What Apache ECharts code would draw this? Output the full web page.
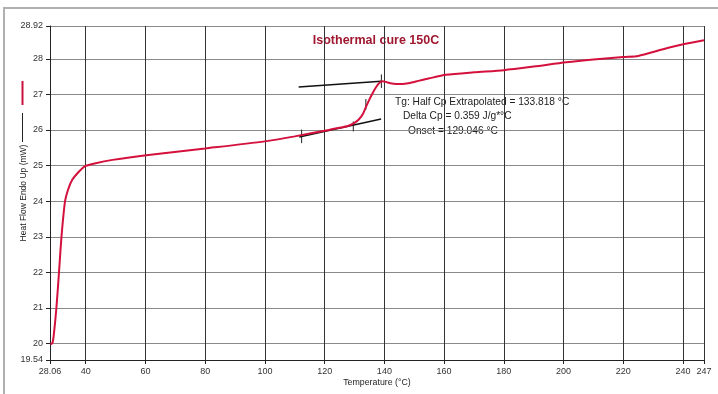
<!DOCTYPE html>
<html>
<head>
<meta charset="utf-8">
<script src="https://cdn.jsdelivr.net/npm/echarts@6/dist/echarts.min.js"></script>
<style>html,body{margin:0;padding:0;background:#fff}#c{width:718px;height:394px}</style>
</head>
<body>
<div id="c"></div>
<script>
// ---- data ----
const temperature = [28.2, 28.9, 29.4, 30.2, 31.07, 31.9, 33.1, 34.1, 35.5, 37.4, 39.7, 43, 49, 61, 80, 100, 110, 120, 125, 128, 130, 131.5, 132.8, 133.8, 135, 136.1, 137.2, 138.4, 139.4, 140.5, 142, 144, 146, 148, 150, 155, 160.6, 170, 180, 190, 200.8, 210, 220, 225, 233, 240.8, 247];
const heatFlow    = [19.98, 20.02, 20.3, 21.0, 22.0, 23.0, 24.0, 24.32, 24.6, 24.8, 24.98, 25.06, 25.16, 25.3, 25.48, 25.68, 25.82, 25.98, 26.06, 26.12, 26.2, 26.3, 26.45, 26.64, 26.86, 27.04, 27.2, 27.33, 27.37, 27.35, 27.31, 27.29, 27.29, 27.31, 27.35, 27.45, 27.55, 27.62, 27.68, 27.78, 27.9, 27.98, 28.05, 28.08, 28.26, 28.42, 28.52];
const upperTangentT = [111.3, 138.9];
const upperTangentV = [27.21, 27.37];
const lowerTangentT = [111.5, 138.9];
const lowerTangentV = [25.80, 26.31];
const markerT    = [112.3, 129.6, 133.8, 139.0];
const markerLowV = [25.63, 25.96, 26.57, 27.18];
const markerHighV= [26.01, 26.24, 26.87, 27.56];
const xTicks = [28.06, 40, 60, 80, 100, 120, 140, 160, 180, 200, 220, 240, 247];
const yTicks = [19.54, 20, 21, 22, 23, 24, 25, 26, 27, 28, 28.92];
const chartTitle = 'Isothermal cure 150C';
const annotations = ['Tg: Half Cp Extrapolated = 133.818 °C', 'Delta Cp = 0.359 J/g*°C', 'Onset = 129.046 °C'];

const zip = (a, b) => a.map((v, i) => [v, b[i]]);
const markerSeries = markerT.map((t, i) => ({
  type: 'line', data: [[t, markerLowV[i]], [t, markerHighV[i]]],
  symbol: 'none', lineStyle: {color: '#222', width: 1}, z: 4, silent: true
}));

const chart = echarts.init(document.getElementById('c'));
chart.setOption({
  animation: false,
  backgroundColor: '#fff',
  grid: {left: 50, right: 14, top: 26, bottom: 34, outerBoundsMode: 'none', containLabel: false},
  xAxis: {
    type: 'value', min: 28.06, max: 247,
    name: 'Temperature (°C)', nameLocation: 'middle', nameGap: 18, nameMoveOverlap: false,
    nameTextStyle: {fontFamily: 'Liberation Sans', fontSize: 8.8, color: '#222'},
    axisLine: {show: true, lineStyle: {color: '#222', width: 1}},
    axisTick: {show: true, length: 4, customValues: xTicks, lineStyle: {color: '#222'}},
    axisLabel: {customValues: xTicks, fontFamily: 'Liberation Sans', fontSize: 9, color: '#333', margin: 7,
      formatter: v => String(v)},
    splitLine: {show: true, lineStyle: {color: '#333', width: 1}}
  },
  yAxis: {
    type: 'value', min: 19.54, max: 28.92,
    name: 'Heat Flow Endo Up (mW)', nameLocation: 'middle', nameGap: 22, nameRotate: 90, nameMoveOverlap: false,
    nameTextStyle: {fontFamily: 'Liberation Sans', fontSize: 8.5, color: '#222'},
    axisLine: {show: true, lineStyle: {color: '#222', width: 1}},
    axisTick: {show: true, length: 4, customValues: yTicks, lineStyle: {color: '#222'}},
    axisLabel: {customValues: yTicks, fontFamily: 'Liberation Sans', fontSize: 9, color: '#333', margin: 7,
      formatter: v => String(v)},
    splitLine: {show: true, lineStyle: {color: '#8a8a8a', width: 1}}
  },
  series: [
    {type: 'line', data: zip(temperature, heatFlow), symbol: 'none', smooth: 0.25,
     lineStyle: {color: '#d4103c', width: 2}, z: 5, silent: true},
    {type: 'line', data: zip(upperTangentT, upperTangentV), symbol: 'none',
     lineStyle: {color: '#111', width: 1.5}, z: 4, silent: true},
    {type: 'line', data: zip(lowerTangentT, lowerTangentV), symbol: 'none',
     lineStyle: {color: '#111', width: 1.5}, z: 4, silent: true},
    ...markerSeries
  ],
  graphic: [
    {type: 'rect', shape: {x: 4, y: 8, width: 716, height: 400}, style: {fill: 'none', stroke: '#b0b0b0', lineWidth: 2}, silent: true},
    {type: 'line', shape: {x1: 22.5, y1: 81, x2: 22.5, y2: 105}, style: {stroke: '#c8103a', lineWidth: 2}},
    {type: 'line', shape: {x1: 22.5, y1: 113, x2: 22.5, y2: 142}, style: {stroke: '#222', lineWidth: 1}},
    {type: 'text', x: 376, y: 41, style: {text: chartTitle, font: 'bold 12.5px "Liberation Sans"', fill: '#a01830', align: 'center', verticalAlign: 'middle'}},
    {type: 'text', x: 395, y: 102, style: {text: annotations[0], font: '10.2px "Liberation Sans"', fill: '#222', align: 'left', verticalAlign: 'middle'}},
    {type: 'text', x: 403, y: 116, style: {text: annotations[1], font: '10.2px "Liberation Sans"', fill: '#222', align: 'left', verticalAlign: 'middle'}},
    {type: 'text', x: 408, y: 131, style: {text: annotations[2], font: '10.2px "Liberation Sans"', fill: '#222', align: 'left', verticalAlign: 'middle'}}
  ]
});
</script>
</body>
</html>
